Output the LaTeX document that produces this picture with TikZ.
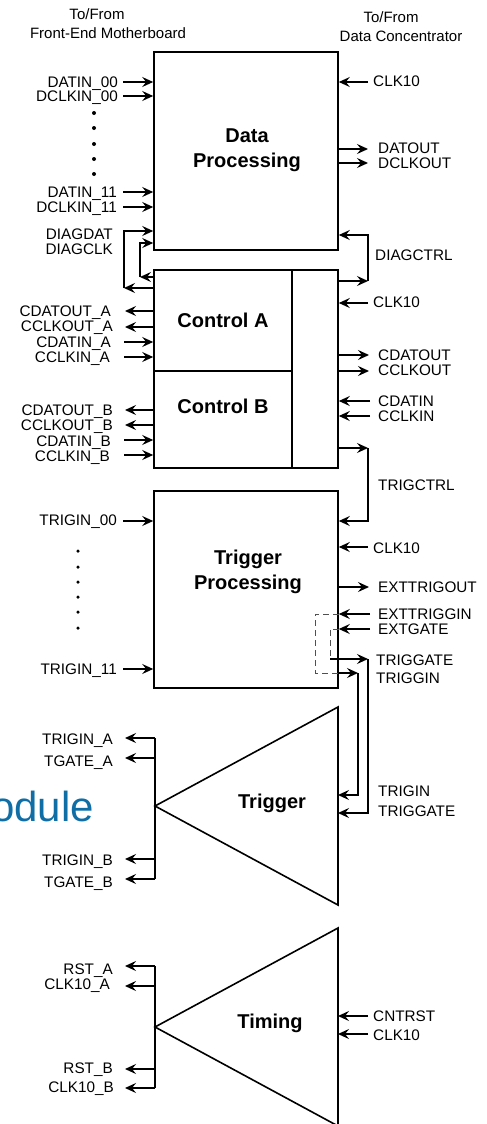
\documentclass[tikz,border=0pt]{standalone}
\usepackage{fontspec}
\setmainfont{Liberation Sans}
\usetikzlibrary{arrows.meta}
\definecolor{modblue}{RGB}{16,110,166}
\definecolor{dashgray}{RGB}{80,80,80}
\begin{document}
\begin{tikzpicture}[x=1pt,y=-1pt,
  ln/.style={line width=1.6pt},
  arr/.style={line width=1.6pt,-{Stealth[length=11pt,width=10pt,inset=4pt]}},
  dsh/.style={line width=1pt,dashgray,dash pattern=on 6pt off 4pt},
  lblL/.style={anchor=base east,inner sep=0pt,font=\fontsize{15.3}{17}\selectfont},
  lblR/.style={anchor=base west,inner sep=0pt,font=\fontsize{15.3}{17}\selectfont},
  hdr/.style={anchor=base,inner sep=0pt,font=\fontsize{15}{17}\selectfont},
  blk/.style={draw,line width=1.6pt,inner sep=0pt,minimum width=184pt},
  ttl/.style={anchor=base,inner sep=0pt,font=\fontsize{20}{25}\selectfont\bfseries},
  dotn/.style={circle,fill,inner sep=0pt,minimum size=4pt}
]
\useasboundingbox (0,0) rectangle (487,1124);
\clip (0,0) rectangle (487,1124);

% headers
\node[hdr] (h1a) at (97,20) {To/From};
\node[hdr] (h1b) at (108,39) {Front-End Motherboard};
\node[hdr] (h2a) at (391,23) {To/From};
\node[hdr] (h2b) at (401,42) {Data Concentrator};

% blocks
\node[blk,minimum height=198pt] (dp) at (246,151) {};
\node[ttl] (dpt1) at (247,142) {Data};
\node[ttl] (dpt2) at (247,167) {Processing};

\node[blk,minimum height=198pt] (ctrl) at (246,369) {};
\draw[ln] (292,270) -- (292,468);
\draw[ln] (154,371) -- (292,371);
\node[ttl] (cta) at (223,327) {Control A};
\node[ttl] (ctb) at (223,413) {Control B};

\node[blk,minimum height=197pt] (tp) at (246,589.5) {};
\node[ttl] (tpt1) at (248,564) {Trigger};
\node[ttl] (tpt2) at (248,589) {Processing};

% triangles
\coordinate (trA) at (155,806);
\coordinate (trT) at (338,707);
\coordinate (trB) at (338,905);
\draw[ln,line join=miter] (trT) -- (trB) -- (trA) -- cycle;
\node[ttl] (trt) at (272,808) {Trigger};

\coordinate (tmA) at (155,1027);
\coordinate (tmT) at (338,928);
\coordinate (tmB) at (338,1126);
\draw[ln,line join=miter] (tmT) -- (tmB) -- (tmA) -- cycle;
\node[ttl] (tmt) at (270,1028) {Timing};

% Module text (cut at the left edge, as in the reference)
\node[anchor=base east,inner sep=0pt,text=modblue,font=\fontsize{42}{50}\selectfont] (mod) at (94,821) {Module};

% ---------- Data Processing left
\draw[arr] (123,82) -- (dp.west |- 0,82);
\draw[arr] (123,96) -- (dp.west |- 0,96);
\draw[arr] (123,192) -- (dp.west |- 0,192);
\draw[arr] (123,207) -- (dp.west |- 0,207);
\node[lblL] (l1) at (118,87.5) {DATIN\_00};
\node[lblL] (l2) at (118,101.5) {DCLKIN\_00};
\node[lblL] (l3) at (117,197.5) {DATIN\_11};
\node[lblL] (l4) at (117,212.5) {DCLKIN\_11};
\foreach \yy [count=\i] in {113,128,144,159,174} \node[dotn] (dd\i) at (94,\yy) {};

% DIAG loops
\draw[arr] (124,288) -- (124,231) -- (dp.west |- 0,231);
\draw[arr] (ctrl.west |- 0,288) -- (124,288);
\draw[arr] (140,277) -- (140,243) -- (dp.west |- 0,243);
\draw[arr] (ctrl.west |- 0,277) -- (140,277);
\node[lblL] (l5) at (113,239) {DIAGDAT};
\node[lblL] (l6) at (113,254) {DIAGCLK};

% ---------- Data Processing right
\draw[arr] (368,82) -- (dp.east |- 0,82);
\draw[arr] (dp.east |- 0,149) -- (368,149);
\draw[arr] (dp.east |- 0,163) -- (368,163);
\node[lblR] (r1) at (373,86) {CLK10};
\node[lblR] (r2) at (378,153) {DATOUT};
\node[lblR] (r3) at (378,168) {DCLKOUT};

% DIAGCTRL
\draw[arr] (ctrl.east |- 0,281) -- (368,281);
\draw[arr] (368,281) -- (368,235) -- (dp.east |- 0,235);
\node[lblR] (r4) at (375,260) {DIAGCTRL};

% ---------- Control left
\draw[arr] (ctrl.west |- 0,311) -- (125,311);
\draw[arr] (ctrl.west |- 0,327) -- (125,327);
\draw[arr] (124,342) -- (ctrl.west |- 0,342);
\draw[arr] (124,357) -- (ctrl.west |- 0,357);
\draw[arr] (ctrl.west |- 0,410) -- (125,410);
\draw[arr] (ctrl.west |- 0,425) -- (125,425);
\draw[arr] (124,440) -- (ctrl.west |- 0,440);
\draw[arr] (124,455) -- (ctrl.west |- 0,455);
\node[lblL] (l7) at (111,316.5) {CDATOUT\_A};
\node[lblL] (l8) at (113,331) {CCLKOUT\_A};
\node[lblL] (l9) at (111,347) {CDATIN\_A};
\node[lblL] (l10) at (110,362) {CCLKIN\_A};
\node[lblL] (l11) at (113,415) {CDATOUT\_B};
\node[lblL] (l12) at (113,430) {CCLKOUT\_B};
\node[lblL] (l13) at (111,446) {CDATIN\_B};
\node[lblL] (l14) at (110,461) {CCLKIN\_B};

% ---------- Control right
\draw[arr] (368,303) -- (ctrl.east |- 0,303);
\draw[arr] (ctrl.east |- 0,355) -- (369,355);
\draw[arr] (ctrl.east |- 0,371) -- (369,371);
\draw[arr] (370,401) -- (ctrl.east |- 0,401);
\draw[arr] (370,416) -- (ctrl.east |- 0,416);
\node[lblR] (r5) at (373,307) {CLK10};
\node[lblR] (r6) at (378,360) {CDATOUT};
\node[lblR] (r7) at (378,375.5) {CCLKOUT};
\node[lblR] (r8) at (378,406) {CDATIN};
\node[lblR] (r9) at (378,421) {CCLKIN};

% TRIGCTRL
\draw[arr] (ctrl.east |- 0,448) -- (368,448);
\draw[arr] (368,448) -- (368,521) -- (tp.east |- 0,521);
\node[lblR] (r10) at (378,490) {TRIGCTRL};

% ---------- Trigger Processing left
\draw[arr] (123,521) -- (tp.west |- 0,521);
\draw[arr] (123,669) -- (tp.west |- 0,669);
\node[lblL] (l15) at (117,525) {TRIGIN\_00};
\node[lblL] (l16) at (117,674) {TRIGIN\_11};
\foreach \yy [count=\i] in {551,567,582,597,612,628} \node[dotn,minimum size=3.5pt] (td\i) at (78,\yy) {};

% ---------- Trigger Processing right
\draw[arr] (368,547) -- (tp.east |- 0,547);
\draw[arr] (tp.east |- 0,587) -- (369,587);
\draw[arr] (370,614) -- (tp.east |- 0,614);
\draw[arr] (370,629) -- (tp.east |- 0,629);
\node[lblR] (r11) at (373,553) {CLK10};
\node[lblR] (r12) at (378,592) {EXTTRIGOUT};
\node[lblR] (r13) at (378,619) {EXTTRIGGIN};
\node[lblR] (r14) at (378,634) {EXTGATE};
\node[lblR] (r15) at (376,665) {TRIGGATE};
\node[lblR] (r16) at (376,683) {TRIGGIN};

\draw[dsh] (tp.east |- 0,614) -- (315,614) -- (315,673) -- (tp.east |- 0,673);
\draw[arr] (tp.east |- 0,673) -- (358,673);
\draw[arr] (358,673) -- (358,795) -- (338,795);
\draw[dsh] (tp.east |- 0,629) -- (330,629) -- (330,659);
\draw[arr] (330,659) -- (368,659);
\draw[arr] (368,659) -- (368,813) -- (338,813);
\node[lblR] (r17) at (378,796) {TRIGIN};
\node[lblR] (r18) at (378,816) {TRIGGATE};

% ---------- Trigger bus
\draw[ln] (155,738) -- (155,879);
\draw[arr] (155,738) -- (125,738);
\draw[arr] (155,758) -- (125,758);
\draw[arr] (155,859) -- (125,859);
\draw[arr] (155,879) -- (125,879);
\node[lblL] (l17) at (113,744) {TRIGIN\_A};
\node[lblL] (l18) at (113,766) {TGATE\_A};
\node[lblL] (l19) at (113,865) {TRIGIN\_B};
\node[lblL] (l20) at (113,887) {TGATE\_B};

% ---------- Timing
\draw[ln] (155,966) -- (155,1088);
\draw[arr] (155,966) -- (125,966);
\draw[arr] (155,986) -- (125,986);
\draw[arr] (155,1069) -- (125,1069);
\draw[arr] (155,1088) -- (125,1088);
\node[lblL] (l21) at (113,974) {RST\_A};
\node[lblL] (l22) at (110,989) {CLK10\_A};
\node[lblL] (l23) at (113,1073) {RST\_B};
\node[lblL] (l24) at (114,1092) {CLK10\_B};

\draw[arr] (368,1016) -- (338,1016);
\draw[arr] (368,1034) -- (338,1034);
\node[lblR] (r19) at (373,1021) {CNTRST};
\node[lblR] (r20) at (373,1040) {CLK10};
\end{tikzpicture}
\end{document}
